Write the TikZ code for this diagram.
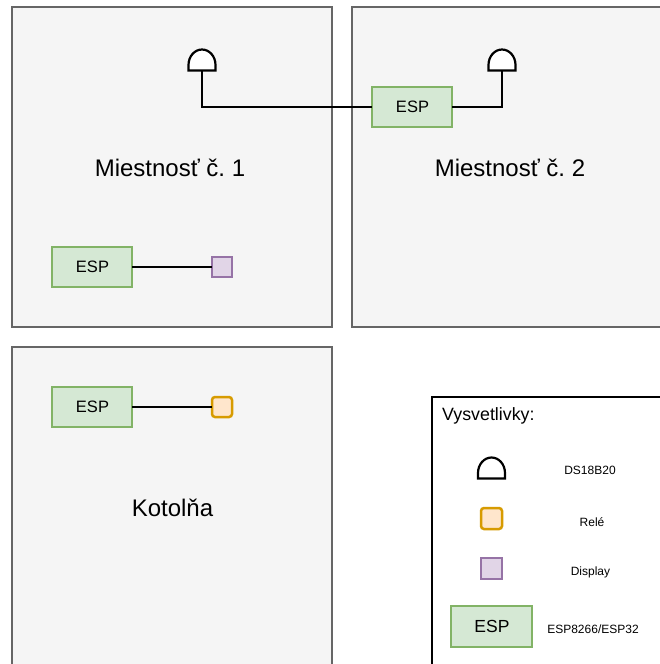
\documentclass[tikz,border=0pt]{standalone}
\usepackage{fontspec}
\setmainfont{Liberation Sans}
\newcommand{\sensorshape}[1]{%
  \draw[sensorline] (#1.south west) -- (#1.south east) -- ([yshift=-5pt]#1.east)
    arc[x radius=13.5pt,y radius=15.5pt,start angle=0,end angle=180] -- cycle;}
\newcommand{\esplabel}{\kern1pt\raisebox{-1pt}{ESP}}
\tikzset{
  x=1pt,y=-1pt,
  room/.style={draw=roomgray,fill=roombg,line width=2pt,outer sep=0,minimum width=320pt,minimum height=320pt,inner sep=0,anchor=north west},
  roomlabel/.style={font=\fontsize{24}{28}\selectfont,text=black,inner sep=0},
  espbox/.style={draw=espgreen,fill=espfill,line width=2.5pt,outer sep=0,minimum width=80pt,minimum height=40pt,inner sep=0,font=\fontsize{16.5}{20}\selectfont,anchor=north west},
  display/.style={draw=dispviolet,fill=dispfill,line width=2.5pt,outer sep=0,minimum size=20pt,inner sep=0,anchor=north west},
  relay/.style={draw=relayorange,fill=relayfill,line width=2.5pt,outer sep=0,minimum size=20pt,inner sep=0,rounded corners=3pt,anchor=north west},
  sensorbox/.style={outer sep=0,minimum width=27pt,minimum height=21pt,inner sep=0,anchor=north west},
  sensorline/.style={draw=black,fill=white,line width=2.2pt,line join=miter},
  wire/.style={draw=black,line width=2.2pt},
  legendbox/.style={draw=black,fill=white,line width=2.2pt,outer sep=0,minimum width=320pt,minimum height=320pt,inner sep=0,anchor=north west},
  legendtitle/.style={font=\fontsize{17.8}{21}\selectfont,inner sep=0,anchor=west},
  legendtext/.style={font=\fontsize{12}{14}\selectfont,inner sep=0},
}
\definecolor{roomgray}{HTML}{666666}
\definecolor{roombg}{HTML}{F5F5F5}
\definecolor{espgreen}{HTML}{82B366}
\definecolor{espfill}{HTML}{D5E8D4}
\definecolor{dispviolet}{HTML}{9673A6}
\definecolor{dispfill}{HTML}{E1D5E7}
\definecolor{relayorange}{HTML}{D79B00}
\definecolor{relayfill}{HTML}{FFE6CC}
\begin{document}
\frenchspacing
\begin{tikzpicture}
\useasboundingbox (0,0) rectangle (660,664);
\clip (0,0) rectangle (660,664);
\fill[white] (0,0) rectangle (660,664);
% rooms
\node[room] (r1) at (12,7) {};
\node[room] (r2) at (352,7) {};
\node[room] (r3) at (12,347) {};
\node[roomlabel] (l1) at (170,167.5) {Miestnosť č. 1};
\node[roomlabel] (l2) at (510,167.5) {Miestnosť č. 2};
\node[roomlabel] (l3) at (172.5,507.5) {Kotolňa};
% devices
\node[sensorbox] (s1) at (188.5,49.5) {};
\node[sensorbox] (s2) at (488.5,49.5) {};
\node[espbox] (e2) at (372,87) {\esplabel};
\node[espbox] (e1) at (52,247) {\esplabel};
\node[display] (d1) at (212,257) {};
\node[espbox] (e3) at (52,387) {\esplabel};
\node[relay] (x1) at (212,397) {};
% wires
\draw[wire] (s1.south) |- (e2.west);
\draw[wire] (s2.south) |- (e2.east);
\draw[wire] (e1.east) -- (d1.west);
\draw[wire] (e3.east) -- (x1.west);
\sensorshape{s1}
\sensorshape{s2}
% legend
\node[legendbox] (lg) at (432,397) {};
\node[legendtitle] (lt) at (442,416) {Vysvetlivky:};
\node[sensorbox] (s3) at (478,457.5) {};
\sensorshape{s3}
\node[relay,minimum size=21pt] (x2) at (481,508) {};
\node[display,minimum size=21pt] (d2) at (481,558) {};
\node[espbox,minimum width=81pt,minimum height=41pt,font=\fontsize{17.5}{20}\selectfont] (e4) at (451,606) {\esplabel};
\node[legendtext] (t1) at (590,470) {DS18B20};
\node[legendtext] (t2) at (592,522) {Relé};
\node[legendtext] (t3) at (590.5,572.5) {Display};
\node[legendtext] (t4) at (593,629) {ESP8266/ESP32};
\end{tikzpicture}
\end{document}
